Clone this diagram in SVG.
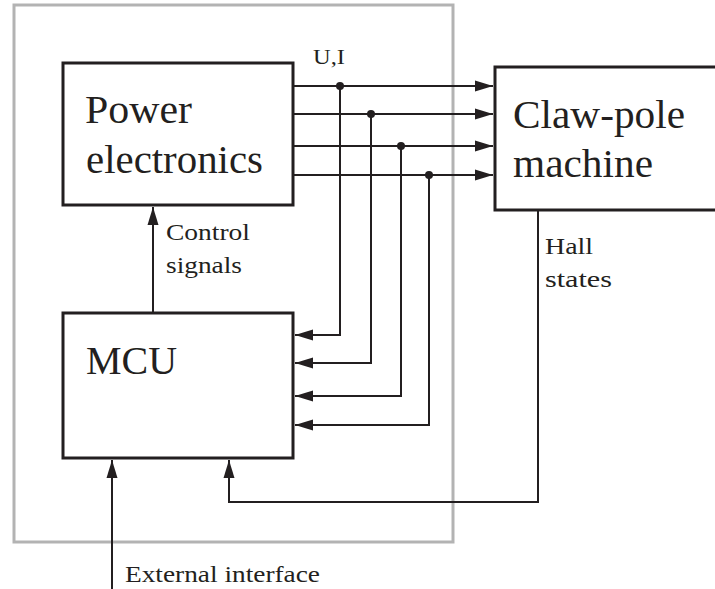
<svg xmlns="http://www.w3.org/2000/svg" width="715" height="589" viewBox="0 0 715 589">
<style>
.box{fill:none;stroke:#231f20;stroke-width:3}
.frame{fill:none;stroke:#b3b3b3;stroke-width:3}
.c{fill:none;stroke:#231f20;stroke-width:2}
text{font-family:"Times New Roman","Liberation Serif",Tinos,Times,serif;fill:#231f20}
.big{font-size:39px}
.sm{font-size:24px}
.dot{fill:#231f20}
</style>
<defs>
<marker id="ah" markerUnits="userSpaceOnUse" markerWidth="18" markerHeight="12" refX="18" refY="6" orient="auto">
<path d="M0,0.5 L18,6 L0,11.5 z" fill="#231f20"/>
</marker>
</defs>
<rect class="frame" x="14" y="5" width="439" height="537"/>
<g id="power-electronics">
<rect class="box" x="63" y="63" width="230" height="142"/>
<text class="big" x="85" y="123" textLength="107" lengthAdjust="spacingAndGlyphs">Power</text>
<text class="big" x="86" y="173" textLength="177" lengthAdjust="spacingAndGlyphs">electronics</text>
</g>
<g id="mcu">
<rect class="box" x="63" y="313" width="230" height="145"/>
<text class="big" x="86" y="374" textLength="91" lengthAdjust="spacingAndGlyphs">MCU</text>
</g>
<g id="claw-pole-machine">
<rect class="box" x="495" y="67" width="240" height="143"/>
<text class="big" x="513" y="128" textLength="172" lengthAdjust="spacingAndGlyphs">Claw-pole</text>
<text class="big" x="513" y="177" textLength="140" lengthAdjust="spacingAndGlyphs">machine</text>
</g>
<g id="connectors">
<line class="c" x1="294" y1="86" x2="493" y2="86" marker-end="url(#ah)"/>
<line class="c" x1="294" y1="114" x2="493" y2="114" marker-end="url(#ah)"/>
<line class="c" x1="294" y1="146" x2="493" y2="146" marker-end="url(#ah)"/>
<line class="c" x1="294" y1="175" x2="493" y2="175" marker-end="url(#ah)"/>
<polyline class="c" points="340,86 340,335 295,335" marker-end="url(#ah)"/>
<polyline class="c" points="371,114 371,363 295,363" marker-end="url(#ah)"/>
<polyline class="c" points="401,146 401,396 295,396" marker-end="url(#ah)"/>
<polyline class="c" points="429,175 429,425 295,425" marker-end="url(#ah)"/>
<circle class="dot" cx="340" cy="86" r="4"/>
<circle class="dot" cx="371" cy="114" r="4"/>
<circle class="dot" cx="401" cy="146" r="4"/>
<circle class="dot" cx="429" cy="175" r="4"/>
<line class="c" x1="153" y1="313" x2="153" y2="207" marker-end="url(#ah)"/>
<polyline class="c" points="538,211 538,502 229,502 229,460" marker-end="url(#ah)"/>
<line class="c" x1="112" y1="589" x2="112" y2="460" marker-end="url(#ah)"/>
</g>
<g id="labels">
<text x="313" y="64" textLength="32" lengthAdjust="spacingAndGlyphs" style="font-size:20px">U,I</text>
<text class="sm" x="166" y="240" textLength="84" lengthAdjust="spacingAndGlyphs">Control</text>
<text class="sm" x="166" y="273" textLength="76" lengthAdjust="spacingAndGlyphs">signals</text>
<text class="sm" x="545" y="254" textLength="48" lengthAdjust="spacingAndGlyphs">Hall</text>
<text class="sm" x="545" y="287" textLength="67" lengthAdjust="spacingAndGlyphs">states</text>
<text class="sm" x="125" y="582" textLength="195" lengthAdjust="spacingAndGlyphs">External interface</text>
</g>
</svg>
